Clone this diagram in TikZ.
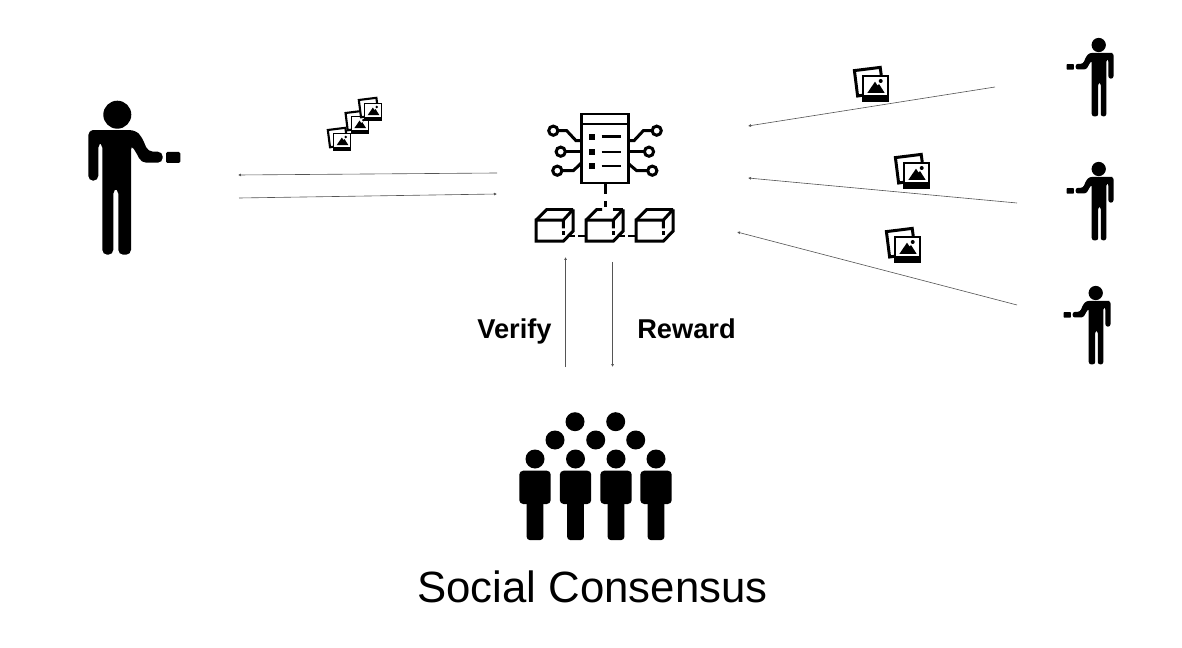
\documentclass[tikz,border=0pt]{standalone}
\usepackage{fontspec}
\setmainfont{Liberation Sans}
\usepackage{tikz}
\usetikzlibrary{arrows.meta}
\definecolor{linkC}{RGB}{85,85,85}
\tikzset{
  link/.style={linkC,line width=0.35pt,-{Latex[length=1.7pt,width=1.7pt]}},
  outline/.style={draw=black,line width=1.7pt,line join=miter},
  pics/person/.style={code={
    \fill (0,0) circle (14);
    \fill[rounded corners=#1] (-22,15.5) -- (18,15.5) -- (24.4,22) -- (30.7,37) -- (45.4,37) -- (45.4,48) -- (24,48) -- (19,38) -- (13.7,30) -- (13.7,140) -- (1,140) -- (1,74) -- (-4,74) -- (-4,140) -- (-15,140) -- (-15,28) -- (-19,28) -- (-19,66) -- (-29,66) -- (-29,15.5) -- cycle;
    \fill[rounded corners=0.3*#1] (48.7,37.3) rectangle (63,48.3);
  }},
  pics/photo/.style={code={
    \filldraw[fill=white,draw=black,line width=#1] (-7.6,-4.4) -- (18.2,-7.6) -- (21.5,17) -- (-4.4,21) -- cycle;
    \fill (0,0) rectangle (27,27);
    \fill[white] (2,1.8) rectangle (25,20);
    \fill (5.3,18) -- (13,6.7) -- (15.5,10.5) -- (17,9) -- (22.7,18) -- cycle;
    \fill (18.7,6) circle (2);
  }},
  pics/cube/.style={code={
    \draw[outline] (27.3,19) -- (27.3,10.7) -- (0,10.7) -- (0,31.7) -- (27.3,31.7) -- (37,21.7) -- (37,0);
    \draw[outline] (27.3,10.7) -- (37,0);
    \draw[outline] (27,21.7) -- (27,25.5);
  }},
  pics/worker/.style={code={
    \fill (0,0) circle (9.5);
    \fill[rounded corners=2.2pt] (-15.7,11.7) rectangle (15.7,45);
    \fill[rounded corners=1.7pt] (-8.3,40) rectangle (8.3,81);
  }},
}

\begin{document}
\begin{tikzpicture}[x=0.02cm,y=-0.02cm]
\useasboundingbox (0,0) rectangle (1182,648);

% Owner and the photos sent in
\pic at (117.3,114.7) {person=2.8pt};
\pic[scale=0.68] at (333,133) {photo=1.2pt};
\pic[scale=0.68] at (350.7,116) {photo=1.2pt};
\pic[scale=0.68] at (364,103) {photo=1.2pt};

% Contract and chain
\draw[outline] (581,114) rectangle (628,183);
\draw[outline] (581,124) -- (628,124);
\foreach \yy in {136.7,152,166} {
  \fill (588.7,\yy-3) rectangle (594.7,\yy+3);
  \draw[outline] (601.7,\yy) -- (621,\yy);
}
\foreach \cx/\cy in {553.3/130.7,560.7/151.7,557.3/170.7,656.7/130.7,649/151.7,652.3/170.7} {
  \draw[outline] (\cx,\cy) circle (4.6);
}
\draw[outline] (558,130.7) -- (566.7,130.7) -- (576,140.7) -- (581,140.7);
\draw[outline] (565.3,151.7) -- (581,151.7);
\draw[outline] (562,170.7) -- (573.3,170.7) -- (581,163.3);
\draw[outline] (652,130.7) -- (643.3,130.7) -- (634,140.7) -- (628,140.7);
\draw[outline] (644.4,151.7) -- (628,151.7);
\draw[outline] (647.7,170.7) -- (636.7,170.7) -- (628,163.3);
\draw[outline] (605,183) -- (605,194);
\draw[outline] (605,201) -- (605,207);
\foreach \cx in {536,586,636} {
  \pic at (\cx,209.5) {cube};
}
\foreach \cx in {536,636} {
  \draw[outline] (\cx,220.2) -- (\cx+10.7,209.5) -- (\cx+37,209.5);
}
\draw[outline] (586,220.2) -- (596.7,209.5) -- (602,209.5);
\draw[outline] (612.5,209.5) -- (623,209.5);
\foreach \xa/\xb in {568/575,578/586,618/625,628/636} {
  \draw[outline] (\xa,236) -- (\xb,236);
}

% Users on the right
\pic[xscale=-0.51,yscale=0.51] at (1098.7,45) {person=1.4pt};
\pic[xscale=-0.51,yscale=0.51] at (1098.7,169) {person=1.4pt};
\pic[xscale=-0.51,yscale=0.51] at (1095.7,293) {person=1.4pt};
\pic at (862,75) {photo=1.7pt};
\pic at (903,162) {photo=1.7pt};
\pic at (894,236) {photo=1.7pt};

% Crowd
\foreach \cx/\cy in {555/440,595.7/440,635.7/440,575/421.7,615.7/421.7} {
  \fill (\cx,\cy) circle (9.5);
}
\foreach \cx in {535,575.5,616,656} {
  \pic at (\cx,459) {worker};
}

% Labels
\node[font=\fontsize{15.5pt}{18pt}\selectfont\bfseries,inner sep=0pt,anchor=base] (verify) at (514.5,338.7) {Verify};
\node[font=\fontsize{15.5pt}{18pt}\selectfont\bfseries,inner sep=0pt,anchor=base] (reward) at (686.5,338.7) {Reward};
\node[font=\fontsize{24.9pt}{30pt}\selectfont,inner sep=0pt] (consensus) at (592.5,587) {Social Consensus};

% Connectors
\coordinate (inA) at (497,173);
\coordinate (inB) at (238,175);
\coordinate (inC) at (239,198);
\coordinate (inD) at (497,194);
\coordinate (outA) at (995,87);
\coordinate (outB) at (748,126);
\coordinate (outC) at (1017,203);
\coordinate (outD) at (748,178);
\coordinate (outE) at (1017,305);
\coordinate (outF) at (737,232);
\coordinate (verA) at (565.5,367);
\coordinate (verB) at (565.5,257);
\coordinate (rewA) at (612.5,262);
\coordinate (rewB) at (612.5,367);
\draw[link] (inA) -- (inB);
\draw[link] (inC) -- (inD);
\draw[link] (outA) -- (outB);
\draw[link] (outC) -- (outD);
\draw[link] (outE) -- (outF);
\draw[link] (verA) -- (verB);
\draw[link] (rewA) -- (rewB);
\end{tikzpicture}
\end{document}
